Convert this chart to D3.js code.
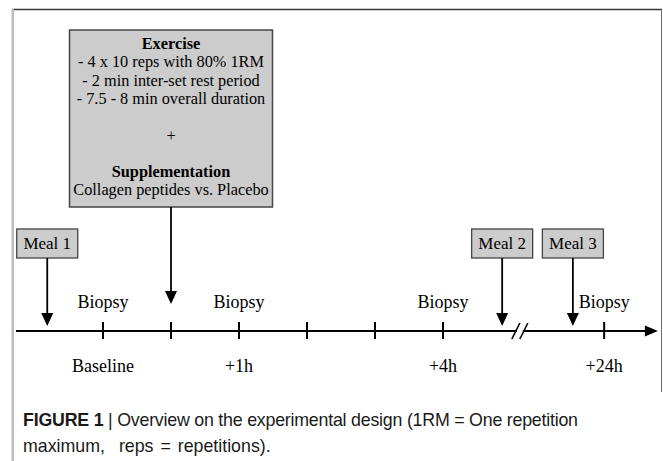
<!DOCTYPE html>
<html>
<head>
<meta charset="utf-8">
<script src="https://cdn.jsdelivr.net/npm/d3@7"></script>
<style>
  body { margin: 0; background: #fff; }
  svg { display: block; }
</style>
</head>
<body>
<script>
// timeline positions are in "slots" (one slot = one tick step on the axis)
const biopsySlots = [0, 2, 5, 7.37];
const biopsyLabels = ["Baseline", "+1h", "+4h", "+24h"];
const tickSlots = [0, 1, 2, 3, 4, 5, 7.37];
const breakSlot = 6.13;
const axisExtent = [-1.28, 8.16];

const mealNames = ["Meal 1", "Meal 2", "Meal 3"];
const mealSlots = [-0.82, 5.87, 6.91];

const exerciseSlot = 1;
const exerciseLines = [
  { text: "Exercise", bold: true },
  { text: "- 4 x 10 reps with 80% 1RM" },
  { text: "- 2 min inter-set rest period" },
  { text: "- 7.5 - 8 min overall duration" },
  { text: "" },
  { text: "+" },
  { text: "" },
  { text: "Supplementation", bold: true },
  { text: "Collagen peptides vs. Placebo" }
];

const captionLines = [
  [{ t: "FIGURE 1", b: true }, { t: " | ", b: false }, { t: "Overview on the experimental design (1RM = One repetition", b: false }],
  [{ t: "maximum,  reps = repetitions).", b: false }]
];

const width = 663, height = 461;
const serif = "'Liberation Serif', 'Times New Roman', serif";
const sans = "'Liberation Sans', Arial, Helvetica, sans-serif";

const svg = d3.select("body").append("svg")
  .attr("width", width)
  .attr("height", height);

// x scale: slot -> pixel
const x = d3.scaleLinear().domain([0, 1]).range([103, 171]);
const axisY = 331;

// frame of the figure + grey caption bar on the left
svg.append("line").attr("x1", 12).attr("x2", 662).attr("y1", 9.5).attr("y2", 9.5)
  .style("stroke", "#3a3a3a").style("stroke-width", 1.5);
svg.append("line").attr("x1", 661.5).attr("x2", 661.5).attr("y1", 9.5).attr("y2", 392)
  .style("stroke", "#6a6a6a").style("stroke-width", 1);
svg.append("rect").attr("x", 11.5).attr("y", 9).attr("width", 2.5).attr("height", height - 9)
  .style("fill", "#bdbdbd");

// arrow head helper (pointing down)
function downArrow(g, cx, tipY) {
  g.append("path")
    .attr("d", `M${cx - 6},${tipY - 13}L${cx + 6},${tipY - 13}L${cx},${tipY}Z`)
    .style("fill", "#000");
}

// main time axis
const axisG = svg.append("g");
axisG.append("line")
  .attr("x1", x(axisExtent[0])).attr("x2", x(axisExtent[1]) - 10)
  .attr("y1", axisY).attr("y2", axisY)
  .style("stroke", "#000").style("stroke-width", 2);
axisG.append("path")
  .attr("d", `M${x(axisExtent[1]) - 13},${axisY - 5.5}L${x(axisExtent[1])},${axisY}L${x(axisExtent[1]) - 13},${axisY + 5.5}Z`)
  .style("fill", "#000");

axisG.selectAll("line.tick")
  .data(tickSlots)
  .enter()
  .append("line")
  .attr("class", "tick")
  .attr("x1", d => x(d)).attr("x2", d => x(d))
  .attr("y1", axisY - 9).attr("y2", axisY + 8)
  .style("stroke", "#000").style("stroke-width", 2);

// axis break "//"
const bx = x(breakSlot);
axisG.append("rect").attr("x", bx - 3).attr("y", axisY - 2).attr("width", 6).attr("height", 4)
  .style("fill", "#fff");
[-4, 4].forEach(off => {
  axisG.append("line")
    .attr("x1", bx + off - 4).attr("y1", axisY + 8)
    .attr("x2", bx + off + 4).attr("y2", axisY - 8)
    .style("stroke", "#000").style("stroke-width", 1.6);
});

// biopsy labels above, time labels below
svg.selectAll("text.biopsy")
  .data(biopsySlots)
  .enter()
  .append("text")
  .attr("class", "biopsy")
  .attr("x", d => x(d)).attr("y", axisY - 23)
  .attr("text-anchor", "middle")
  .style("font-family", serif).style("font-size", "18px")
  .text("Biopsy");

svg.selectAll("text.time")
  .data(biopsySlots)
  .enter()
  .append("text")
  .attr("class", "time")
  .attr("x", d => x(d)).attr("y", axisY + 41)
  .attr("text-anchor", "middle")
  .style("font-family", serif).style("font-size", "18px")
  .text((d, i) => biopsyLabels[i]);

// meal boxes with arrows
const mealTop = 229, mealH = 29, mealW = 61;
const meals = svg.selectAll("g.meal")
  .data(mealNames)
  .enter()
  .append("g")
  .attr("class", "meal");
meals.append("rect")
  .attr("x", (d, i) => x(mealSlots[i]) - mealW / 2)
  .attr("y", mealTop)
  .attr("width", mealW).attr("height", mealH)
  .style("fill", "#cccccc").style("stroke", "#444").style("stroke-width", 1.3);
meals.append("text")
  .attr("x", (d, i) => x(mealSlots[i]))
  .attr("y", mealTop + 20)
  .attr("text-anchor", "middle")
  .style("font-family", serif).style("font-size", "17px")
  .text(d => d);
meals.append("line")
  .attr("x1", (d, i) => x(mealSlots[i])).attr("x2", (d, i) => x(mealSlots[i]))
  .attr("y1", mealTop + mealH).attr("y2", axisY - 15)
  .style("stroke", "#000").style("stroke-width", 1.8);
meals.each(function(d, i) { downArrow(d3.select(this), x(mealSlots[i]), axisY - 5); });

// exercise + supplementation box
const exX = x(exerciseSlot);
const exBox = svg.append("g");
exBox.append("rect")
  .attr("x", exX - 101.5).attr("y", 30)
  .attr("width", 203).attr("height", 177)
  .style("fill", "#cccccc").style("stroke", "#444").style("stroke-width", 1.5);
exBox.selectAll("text")
  .data(exerciseLines)
  .enter()
  .append("text")
  .attr("x", exX)
  .attr("y", (d, i) => 49 + i * 18.3)
  .attr("text-anchor", "middle")
  .style("font-family", serif).style("font-size", "16.3px")
  .style("font-weight", d => d.bold ? "bold" : "normal")
  .text(d => d.text);
exBox.append("line")
  .attr("x1", exX).attr("x2", exX)
  .attr("y1", 207).attr("y2", axisY - 38)
  .style("stroke", "#000").style("stroke-width", 1.8);
downArrow(exBox, exX, axisY - 27);

// caption
const cap = svg.append("g");
captionLines.forEach((line, i) => {
  const t = cap.append("text")
    .attr("x", 23).attr("y", 426 + i * 25.5)
    .attr("xml:space", "preserve")
    .style("white-space", "pre")
    .style("font-family", sans).style("font-size", "17.8px")
    .style("fill", "#1a1a1a");
  if (i === 0) t.attr("textLength", 555).attr("lengthAdjust", "spacing");
  else t.style("word-spacing", "2px");
  line.forEach(seg => {
    t.append("tspan")
      .style("font-weight", seg.b ? "bold" : "normal")
      .text(seg.t);
  });
});
</script>
</body>
</html>
